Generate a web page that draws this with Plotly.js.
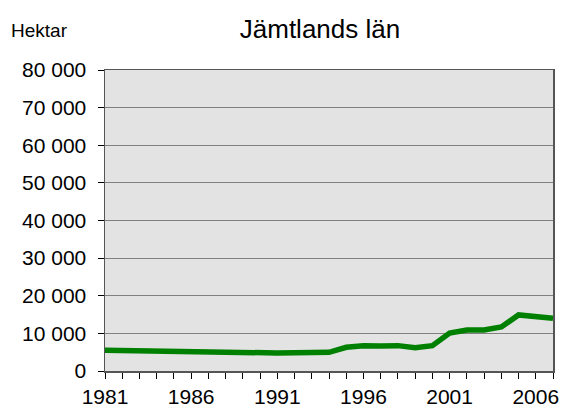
<!DOCTYPE html>
<html>
<head>
<meta charset="utf-8">
<script src="https://cdn.plot.ly/plotly-3.0.1.min.js"></script>
<style>html,body{margin:0;padding:0;background:#fff}#chart{width:563px;height:412px}</style>
</head>
<body>
<div id="chart"></div>
<script>
const years = [1981,1982,1983,1984,1985,1986,1987,1988,1989,1990,1991,1992,1993,1994,1995,1996,1997,1998,1999,2000,2001,2002,2003,2004,2005,2006,2007];
const hektar = [5500,5400,5320,5240,5150,5150,4970,4790,4700,4700,4790,4880,4970,4970,6300,6740,6650,6740,6210,6740,10100,10900,10900,11700,14900,14300,14000];
const yTicks = [0,10000,20000,30000,40000,50000,60000,70000,80000];
const xTickLabels = years.map(y => ((y - 1981) % 5 === 0 && y < 2007) ? String(y) : '');
const chartTitle = 'Jämtlands län';
const unitLabel = 'Hektar';

const font = {family: '"Liberation Sans", Arial, sans-serif', color: '#000'};

Plotly.newPlot('chart', [{
  x: years, y: hektar, type: 'scatter', mode: 'lines',
  line: {color: '#008000', width: 5.5}, hoverinfo: 'skip'
}], {
  width: 563, height: 412,
  margin: {l: 105, r: 10, t: 70, b: 41, pad: 0},
  paper_bgcolor: '#ffffff', plot_bgcolor: '#e3e3e3',
  separators: ', ',
  font: Object.assign({size: 21}, font),
  showlegend: false,
  title: {text: chartTitle, font: Object.assign({size: 26}, font), x: 320/563, xanchor: 'center', xref: 'container', y: 1 - 29/412, yanchor: 'middle', yref: 'container'},
  xaxis: {
    range: [1981, 2007], tickmode: 'array', tickvals: years, ticktext: xTickLabels,
    ticks: 'outside', ticklen: 6, tickwidth: 1, tickcolor: '#000',
    showline: true, linecolor: '#555', linewidth: 1.5, mirror: true,
    showgrid: false, zeroline: false, tickfont: Object.assign({size: 21}, font),
    ticklabelstandoff: 0, fixedrange: true
  },
  yaxis: {
    range: [0, 80000], tickmode: 'array', tickvals: yTicks, tickformat: ',d',
    ticks: 'outside', ticklen: 6, tickwidth: 1, tickcolor: '#000',
    showline: true, linecolor: '#555', linewidth: 1.5, mirror: true,
    showgrid: true, gridcolor: '#808080', gridwidth: 1, zeroline: false,
    tickfont: Object.assign({size: 21}, font), ticklabelstandoff: 7, fixedrange: true
  },
  annotations: [{
    text: unitLabel, xref: 'paper', yref: 'paper', x: (9 - 105) / 448, y: (371 - 31) / 301,
    xanchor: 'left', yanchor: 'middle', showarrow: false, font: Object.assign({size: 19}, font)
  }]
}, {displayModeBar: false, staticPlot: true});
</script>
</body>
</html>
